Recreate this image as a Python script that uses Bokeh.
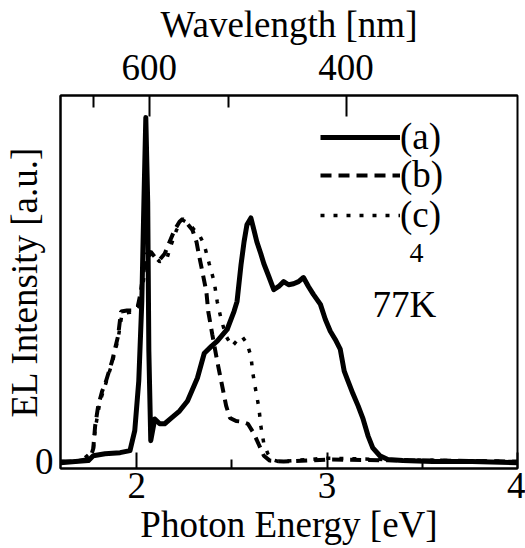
from bokeh.plotting import figure
from bokeh.models import (LinearAxis, FixedTicker, CustomJSTickFormatter, Legend,
                          LegendItem, Label, Range1d)
from bokeh.embed import file_html
from bokeh.resources import INLINE

# ---------------- data ----------------
energy_a = [1.600, 1.678, 1.746, 1.772, 1.834, 1.913, 1.965, 1.990, 2.011, 2.027,
            2.038, 2.048, 2.058, 2.064, 2.074, 2.095, 2.121, 2.147, 2.183, 2.225,
            2.267, 2.319, 2.355, 2.392, 2.423, 2.475, 2.511, 2.527, 2.548, 2.564,
            2.579, 2.600, 2.616, 2.631, 2.652, 2.668, 2.694, 2.720, 2.746, 2.772,
            2.798, 2.824, 2.850, 2.876, 2.902, 2.928, 2.965, 2.991, 3.017, 3.043,
            3.069, 3.090, 3.110, 3.136, 3.163, 3.189, 3.215, 3.240, 3.277, 3.319,
            3.397, 3.553, 3.761, 4.000]
intensity_a = [-0.003, 0.000, 0.003, 0.017, 0.023, 0.026, 0.032, 0.090, 0.234, 0.465,
               0.754, 1.000, 0.754, 0.321, 0.061, 0.124, 0.110, 0.110, 0.127, 0.147,
               0.176, 0.243, 0.315, 0.335, 0.350, 0.384, 0.436, 0.465, 0.572, 0.639,
               0.688, 0.708, 0.673, 0.639, 0.604, 0.575, 0.538, 0.500, 0.509, 0.523,
               0.514, 0.517, 0.523, 0.535, 0.509, 0.486, 0.457, 0.413, 0.379, 0.355,
               0.327, 0.263, 0.234, 0.197, 0.162, 0.124, 0.075, 0.040, 0.017, 0.006,
               0.003, 0.000, 0.000, -0.003]

energy_b = [1.600, 1.678, 1.756, 1.772, 1.782, 1.798, 1.819, 1.834, 1.855, 1.871,
            1.886, 1.902, 1.918, 1.949, 1.980, 2.006, 2.022, 2.038, 2.053, 2.074,
            2.095, 2.121, 2.147, 2.173, 2.199, 2.225, 2.241, 2.267, 2.293, 2.314,
            2.329, 2.345, 2.366, 2.376, 2.397, 2.423, 2.449, 2.470, 2.490, 2.522,
            2.553, 2.584, 2.616, 2.642, 2.668, 2.699, 2.772, 3.000, 3.300, 3.600,
            4.000]
intensity_b = [0.000, 0.000, 0.009, 0.038, 0.104, 0.162, 0.205, 0.225, 0.263, 0.292,
               0.327, 0.364, 0.436, 0.439, 0.439, 0.451, 0.494, 0.558, 0.604, 0.610,
               0.595, 0.587, 0.604, 0.639, 0.673, 0.697, 0.705, 0.691, 0.673, 0.639,
               0.595, 0.552, 0.494, 0.436, 0.370, 0.292, 0.220, 0.162, 0.127, 0.118,
               0.116, 0.110, 0.081, 0.049, 0.017, 0.003, 0.000, 0.006, 0.004, 0.003,
               0.000]

energy_c = [1.600, 1.704, 1.772, 1.782, 1.808, 1.834, 1.871, 1.902, 1.923, 1.965,
            2.001, 2.027, 2.043, 2.058, 2.079, 2.121, 2.157, 2.183, 2.209, 2.241,
            2.277, 2.303, 2.329, 2.355, 2.381, 2.407, 2.423, 2.444, 2.470, 2.501,
            2.532, 2.553, 2.579, 2.600, 2.610, 2.626, 2.642, 2.652, 2.668, 2.689,
            2.710, 2.746, 3.000, 3.400, 4.000]
intensity_c = [0.000, 0.000, 0.032, 0.095, 0.176, 0.220, 0.286, 0.355, 0.430, 0.434,
               0.442, 0.488, 0.558, 0.595, 0.604, 0.581, 0.587, 0.633, 0.673, 0.702,
               0.691, 0.673, 0.659, 0.630, 0.575, 0.523, 0.465, 0.413, 0.364, 0.335,
               0.355, 0.364, 0.344, 0.307, 0.257, 0.205, 0.156, 0.104, 0.052, 0.023,
               0.006, 0.000, 0.010, 0.005, 0.000]

series_labels = ["(a)", "(b)", "(c)"]
energy_major_ticks = [2, 3, 4]
energy_minor_ticks = [2.5, 3.5]
intensity_ticks = [0]
wavelength_major_ticks = [600, 400]
wavelength_minor_ticks = [700, 500]
HC = 1239.84  # eV*nm

FONT = "Liberation Serif"
FS = "37px"

p = figure(width=525, height=548, output_backend="svg", toolbar_location=None,
           x_range=Range1d(1.6, 4.0), y_range=Range1d(-0.020, 1.064),
           x_axis_label="Photon Energy [eV]", y_axis_label="EL Intensity [a.u.]",
           min_border_left=55, min_border_right=8, min_border_top=93,
           min_border_bottom=80)
p.grid.visible = False
p.outline_line_color = "black"
p.outline_line_width = 2
p.background_fill_color = "white"
p.border_fill_color = "white"

# bottom axis
xa = p.xaxis[0]
xa.ticker = FixedTicker(ticks=energy_major_ticks, minor_ticks=energy_minor_ticks)
xa.major_tick_in = 16
xa.major_tick_out = 0
xa.minor_tick_in = 9
xa.minor_tick_out = 0
xa.axis_line_width = 2
xa.major_tick_line_width = 2
xa.minor_tick_line_width = 2
xa.major_label_text_font = FONT
xa.major_label_text_font_size = FS
xa.major_label_text_color = "black"
xa.major_label_standoff = 4
xa.axis_label_text_font = FONT
xa.axis_label_text_font_size = FS
xa.axis_label_text_font_style = "normal"
xa.axis_label_text_color = "black"
xa.axis_label_standoff = 3

# left axis
ya = p.yaxis[0]
ya.ticker = FixedTicker(ticks=intensity_ticks, minor_ticks=[])
ya.major_tick_in = 0
ya.major_tick_out = 0
ya.minor_tick_in = 0
ya.minor_tick_out = 0
ya.axis_line_width = 2
ya.major_label_text_font = FONT
ya.major_label_text_font_size = FS
ya.major_label_text_color = "black"
ya.major_label_standoff = 7
ya.axis_label_text_font = FONT
ya.axis_label_text_font_size = FS
ya.axis_label_text_font_style = "normal"
ya.axis_label_text_color = "black"
ya.axis_label_standoff = -13

# top axis: wavelength
top = LinearAxis(
    ticker=FixedTicker(ticks=[HC / w for w in wavelength_major_ticks],
                       minor_ticks=[HC / w for w in wavelength_minor_ticks]),
    formatter=CustomJSTickFormatter(code="return Math.round(%f / tick).toString()" % HC),
    axis_label="Wavelength [nm]",
    major_tick_in=21, major_tick_out=0, minor_tick_in=12, minor_tick_out=0,
    axis_line_width=2, major_tick_line_width=2, minor_tick_line_width=2,
    major_label_text_font=FONT, major_label_text_font_size=FS,
    major_label_text_color="black", major_label_standoff=16,
    axis_label_text_font=FONT, axis_label_text_font_size=FS,
    axis_label_text_color="black",
    axis_label_text_font_style="normal", axis_label_standoff=7)
p.add_layout(top, "above")

# curves
ra = p.line(energy_a, intensity_a, line_color="black", line_width=5,
            line_join="round")
rb = p.line(energy_b, intensity_b, line_color="black", line_width=4,
            line_dash="11 7")
rc = p.line(energy_c, intensity_c, line_color="black", line_width=3.5,
            line_dash="4 9")

# one legend box per entry so the rows can sit as tightly as in the original
legend_rows = [(series_labels[0], ra, 310), (series_labels[1], rb, 272),
               (series_labels[2], rc, 232)]
for lab, rend, ypos in legend_rows:
    p.add_layout(Legend(items=[LegendItem(label=lab, renderers=[rend])],
                        location=(260, ypos), glyph_width=80, glyph_height=30,
                        label_standoff=0, padding=0, margin=0,
                        background_fill_alpha=0, border_line_alpha=0,
                        label_text_font=FONT, label_text_font_size=FS,
                        label_text_color="black"))

p.add_layout(Label(x=349, y=216, x_units="screen", y_units="screen", text="4",
                   text_font=FONT, text_font_size="28px", text_color="black",
                   text_baseline="alphabetic"))
p.add_layout(Label(x=312, y=164, x_units="screen", y_units="screen", text="77K",
                   text_font=FONT, text_font_size=FS, text_color="black",
                   text_baseline="alphabetic"))

open("out.html", "w").write(file_html(p, INLINE))
